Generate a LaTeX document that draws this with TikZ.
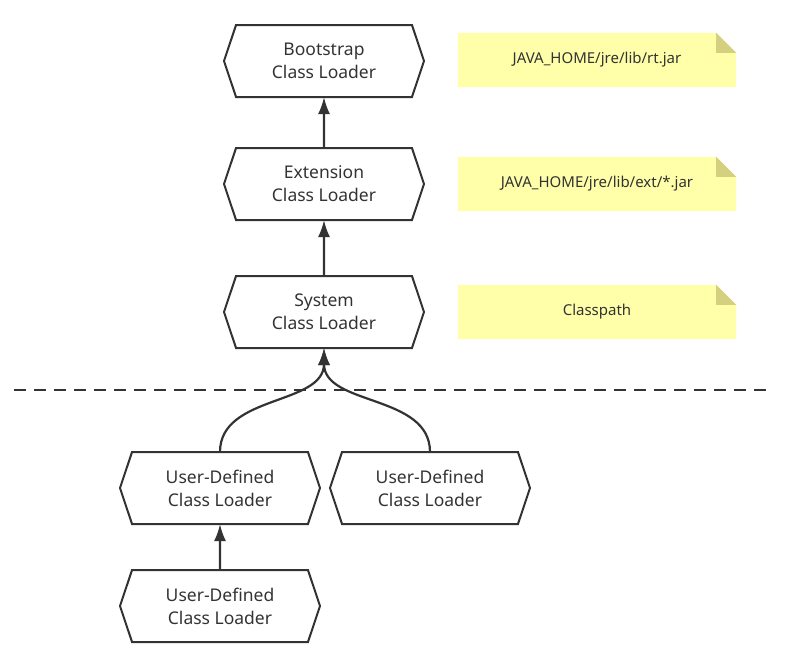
\documentclass[tikz,border=0pt]{standalone}
\usepackage{fontspec}
\setmainfont{Noto Sans}
\usetikzlibrary{shapes.symbols,arrows.meta,calc,backgrounds}
\tikzset{>={Latex[length=17pt,width=12pt]}}
\definecolor{Ink}{RGB}{51,51,51}
\definecolor{NoteYellow}{RGB}{255,255,170}
\definecolor{NoteFold}{RGB}{212,208,128}

\begin{document}
\begin{tikzpicture}[x=1pt,y=-1pt,
    loader/.style={signal, signal to=west and east, signal pointer angle=143, draw=Ink, line width=2pt,
      minimum width=200pt, minimum height=72pt, inner sep=0pt, outer sep=0pt, align=center,
      font=\fontsize{17.5}{23}\selectfont, text=Ink},
    note/.style={minimum width=278pt, minimum height=54pt, inner sep=0pt, font=\fontsize{15}{18}\selectfont, text=Ink},
    link/.style={->, draw=Ink, line width=2.2pt}]
          \useasboundingbox (0,0) rectangle (788,665);
          % class loaders
          \node[loader] (boot) at (324,61) {Bootstrap\\Class Loader};
          \node[loader] (ext) at (324,184) {Extension\\Class Loader};
          \node[loader] (sys) at (324,312) {System\\Class Loader};
          \node[loader] (user1) at (220,488) {User-Defined\\Class Loader};
          \node[loader] (user2) at (430,488) {User-Defined\\Class Loader};
          \node[loader] (user3) at (220,606) {User-Defined\\Class Loader};
          % notes
          \node[note] (rt) at (597,60) {JAVA\_HOME/jre/lib/rt.jar};
          \node[note] (extjar) at (597,184) {JAVA\_HOME/jre/lib/ext/*.jar};
          \node[note] (cp) at (597,312) {Classpath};
          \begin{scope}[on background layer]
            \foreach \n in {rt,extjar,cp}{
              \fill[NoteYellow] (\n.south west) |- ($(\n.north east)+(-20,0)$) -- ($(\n.north east)+(0,20)$) |- cycle;
              \fill[NoteFold] ($(\n.north east)+(-20,0)$) -- ($(\n.north east)+(0,20)$) -- ($(\n.north east)+(-20,20)$) -- cycle;
            }
          \end{scope}
          % arrows
          \draw[link] (ext) -- (boot);
          \draw[link] (sys) -- (ext);
          \draw[link] (user3) -- (user1);
          \draw[link] (user1.north) to[out=90,in=270] (sys.south);
          \draw[link] (user2.north) to[out=90,in=270] (sys.south);
          % boundary
          \coordinate (lineL) at (14,390);
          \coordinate (lineR) at (772,390);
          \draw[Ink, line width=2pt, dash pattern=on 12pt off 8pt] (lineL) -- (lineR);
    \end{tikzpicture}
\end{document}
